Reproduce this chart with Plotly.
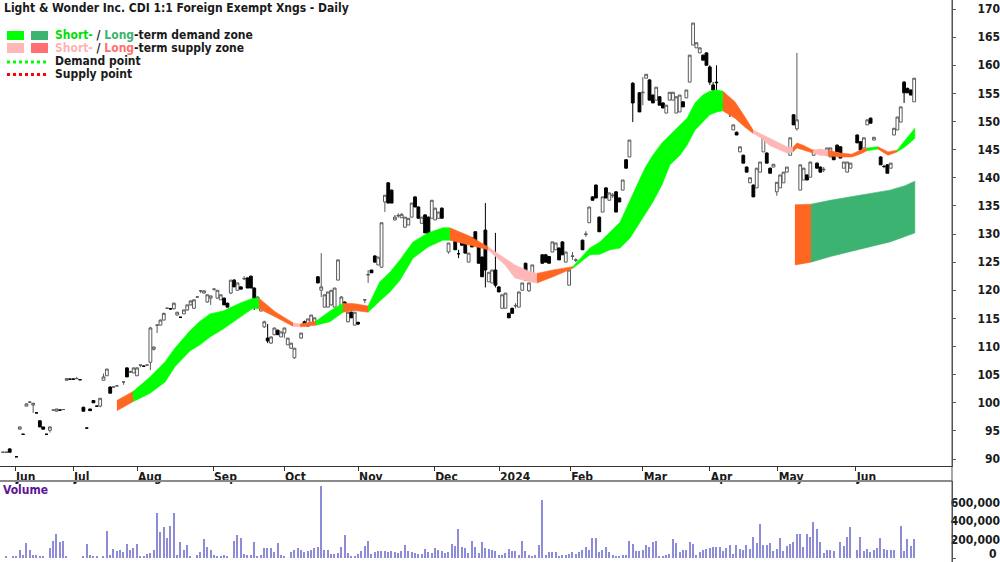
import plotly.graph_objects as go

FONT = "Liberation Sans Narrow, Arial Narrow, DejaVu Sans Condensed, Liberation Sans, Arial, sans-serif"

# ---------------- data: daily candles (trading-day index) ----------------
day = [0, 1, 2, 4, 5, 6, 7, 8, 9, 10, 11, 12, 13, 14, 15, 16, 17, 18, 19, 20, 21, 22, 23, 24, 25, 26, 27, 28, 29, 30, 31, 32, 33, 34, 36, 37, 38, 39, 40, 41, 42, 43,
       44, 45, 46, 47, 48, 49, 50, 51, 52, 53, 54, 55, 56, 57, 58, 59, 60, 61, 62, 63, 64, 65, 66, 67, 68, 69, 70, 71, 72, 73, 74, 75, 76, 77, 78, 79, 80, 81, 82, 83, 84, 85, 86, 87,
       89, 90, 91, 92, 93, 94, 95, 96, 97, 98, 99, 100, 101, 102, 103, 104, 105, 106, 108, 109, 110, 111, 112, 113, 114, 115, 116, 117, 118, 119, 120, 121, 122, 123, 124, 125, 126, 127, 128,
       129, 130, 131, 132, 133, 134, 135, 136, 137, 138, 139, 140, 141, 142, 143, 144, 145, 146, 147, 148, 149, 150, 151, 152, 153, 154, 155, 156, 157, 158, 159, 161, 162, 163, 164, 165, 166, 167, 168, 169, 170, 171,
       173, 174, 175, 176, 177, 178, 179, 180, 181, 182, 183, 184, 185, 186, 187, 188, 190, 191, 192, 193, 194, 195, 196, 197, 198, 199, 200, 201, 202, 203, 204, 205, 206, 207, 208, 209, 210, 211, 212, 213, 214, 215, 216, 217, 218, 219, 220, 221, 222, 223, 224, 225, 226, 227, 228, 229, 230,
       231, 232, 233, 234, 235, 236, 237, 238, 239, 240, 241, 242, 243, 244, 245, 246, 247, 248, 249, 250, 251, 252, 253, 255, 256, 257, 258, 259, 260, 262, 263, 264, 265, 266, 267, 268, 269, 270, 271, 272]

opn = [91.2, 91.2, 91.8, 90.4, 95.3, 94.4, 99.4, 100.1, 99.6, 98.2, 96.8, 95.7, 94.4, 95.1, 98.7, 98.5, 98.7, 98.8, 104.0, 104.2, 104.2, 104.3, 104.1, 99.2, 95.5, 98.9, 100.4, 99.4, 99.4, 104.0, 104.8, 102.8, 102.8, 103.0, 103.7, 106.2, 105.5, 105.3, 104.8, 106.7, 106.5, 106.7,
       107.2, 109.5, 113.8, 113.8, 114.7, 116.8, 116.7, 116.7, 115.6, 115.2, 115.8, 116.5, 117.4, 116.8, 118.8, 119.9, 119.5, 117.9, 118.6, 120.2, 118.6, 118.3, 118.6, 117.7, 119.5, 121.8, 120.0, 120.6, 122.0, 122.2, 122.5, 120.4, 117.0, 116.3, 113.5, 111.5, 110.6, 112.1, 112.9, 111.7, 112.4, 110.3, 109.7, 108.0,
       111.5, 114.4, 113.6, 114.2, 114.0, 122.4, 120.0, 117.0, 117.0, 117.4, 117.0, 121.8, 116.5, 117.9, 114.4, 116.1, 113.8, 114.3, 118.3, 122.7, 123.6, 126.1, 124.5, 124.1, 135.7, 139.1, 137.8, 132.5, 133.2, 132.9, 131.2, 131.6, 133.0, 136.6, 134.8, 131.9, 133.4, 133.0, 132.8,
       132.5, 132.8, 134.6, 130.7, 126.8, 130.7, 129.3, 126.5, 129.5, 128.6, 125.0, 129.3, 130.4, 127.7, 125.9, 130.7, 121.5, 121.3, 123.6, 120.6, 116.8, 116.8, 115.9, 116.8, 117.2, 117.0, 120.0, 124.8, 119.9, 121.8, 122.7, 126.3, 126.3, 126.0, 126.8, 127.2, 127.5, 128.6, 125.0, 120.9, 126.0, 125.3,
       128.9, 129.9, 132.0, 136.6, 138.7, 133.0, 133.9, 138.2, 136.0, 136.8, 137.5, 136.4, 137.8, 143.2, 143.7, 156.8, 155.1, 155.1, 157.7, 157.4, 154.7, 153.8, 154.4, 153.3, 151.5, 153.8, 153.8, 151.5, 151.7, 153.5, 154.2, 157.0, 163.6, 163.1, 162.2, 161.8, 162.2, 159.7, 156.5, 157.0, 153.8, 153.3, 151.7, 151.5, 148.5, 148.1, 144.6, 144.0, 141.9, 139.1, 138.7, 138.2, 141.0, 144.6, 144.4, 141.7, 141.9,
       137.5, 138.2, 139.1, 141.0, 144.0, 151.2, 148.7, 137.8, 139.6, 140.5, 140.1, 144.0, 142.6, 141.9, 141.4, 144.0, 143.7, 144.0, 145.8, 145.5, 141.7, 141.0, 141.7, 147.6, 146.4, 145.3, 149.4, 150.6, 146.7, 143.7, 142.0, 142.3, 141.7, 147.6, 148.5, 149.9, 157.0, 155.9, 155.6, 153.5]

high = [91.3, 91.3, 91.9, 90.5, 95.8, 94.4, 99.9, 100.3, 100.0, 98.2, 96.9, 95.7, 94.4, 95.8, 98.7, 98.9, 98.7, 98.8, 104.3, 104.2, 104.2, 104.6, 104.1, 99.3, 95.5, 98.9, 100.4, 99.4, 100.8, 105.2, 106.0, 102.9, 102.8, 103.0, 103.7, 106.3, 105.7, 106.2, 106.3, 106.7, 106.6, 106.7,
        113.5, 110.0, 113.9, 114.8, 116.0, 116.9, 116.8, 117.8, 116.1, 115.2, 116.5, 117.4, 118.2, 118.3, 118.9, 119.9, 120.0, 119.2, 119.0, 120.2, 120.0, 119.2, 118.7, 117.8, 121.8, 122.0, 121.3, 120.7, 122.5, 122.3, 122.6, 120.5, 118.9, 117.1, 114.6, 114.0, 111.8, 113.3, 113.0, 112.6, 113.3, 111.5, 110.6, 109.7,
        112.4, 114.6, 114.9, 115.6, 115.1, 122.5, 126.6, 119.2, 119.7, 120.0, 120.4, 125.4, 119.0, 118.0, 116.1, 116.2, 116.1, 114.4, 118.3, 123.6, 123.6, 126.2, 125.9, 132.0, 136.9, 139.2, 137.9, 133.4, 133.7, 133.7, 133.0, 132.8, 135.5, 136.7, 134.9, 133.0, 133.5, 133.1, 136.0,
        134.6, 133.9, 134.7, 130.8, 128.4, 130.8, 129.4, 127.2, 129.6, 128.7, 126.6, 129.4, 130.5, 127.8, 126.0, 135.5, 123.2, 123.6, 130.2, 120.7, 119.2, 119.5, 116.0, 116.9, 117.7, 119.7, 121.3, 124.9, 121.3, 124.5, 122.8, 126.4, 126.4, 126.1, 128.6, 128.4, 127.6, 128.7, 126.8, 123.6, 126.8, 125.7,
        129.0, 130.5, 134.8, 136.7, 138.8, 133.1, 136.6, 138.3, 137.3, 137.3, 137.6, 136.5, 139.6, 143.3, 146.7, 157.0, 155.2, 157.9, 158.4, 157.5, 154.8, 156.1, 154.5, 153.4, 152.9, 155.2, 155.2, 154.4, 154.7, 153.6, 155.6, 161.8, 167.5, 164.0, 163.1, 161.9, 162.3, 160.0, 157.0, 160.0, 153.9, 153.4, 153.3, 152.0, 149.4, 148.2, 145.5, 144.1, 142.0, 140.0, 138.8, 141.7, 142.8, 147.3, 144.5, 141.8, 142.4,
        139.2, 140.5, 141.0, 141.9, 147.1, 151.3, 162.2, 142.3, 141.7, 140.6, 142.8, 144.9, 142.7, 142.0, 141.9, 145.3, 145.3, 144.1, 145.9, 145.6, 142.8, 142.8, 142.6, 147.7, 146.5, 147.1, 150.3, 150.7, 147.2, 143.8, 142.3, 142.4, 142.6, 148.8, 150.8, 152.6, 157.2, 156.0, 155.7, 157.7]

low = [91.1, 91.1, 91.2, 90.4, 95.3, 94.4, 99.4, 100.1, 98.2, 98.2, 95.7, 95.3, 94.4, 94.7, 98.7, 98.5, 98.7, 98.8, 104.0, 104.2, 104.2, 104.3, 104.1, 98.5, 95.5, 98.6, 100.0, 99.4, 99.2, 104.0, 104.8, 101.7, 102.8, 103.0, 103.2, 104.6, 105.3, 105.3, 104.8, 106.3, 106.5, 106.7,
       105.8, 109.3, 112.4, 113.8, 114.7, 116.7, 116.6, 116.6, 115.5, 115.2, 115.8, 116.4, 117.3, 116.7, 118.8, 119.5, 119.5, 117.8, 117.4, 119.9, 118.5, 118.3, 117.4, 117.0, 119.3, 120.6, 120.0, 120.2, 121.8, 120.4, 120.4, 116.5, 117.0, 116.3, 113.3, 110.6, 110.5, 112.0, 112.1, 111.7, 111.5, 110.3, 109.6, 107.8,
       111.4, 113.6, 113.5, 114.2, 114.0, 121.3, 118.8, 117.0, 117.0, 117.3, 117.0, 121.8, 116.0, 117.0, 114.3, 115.1, 113.8, 113.8, 117.7, 121.3, 123.1, 125.0, 124.5, 124.0, 133.9, 135.5, 135.5, 132.4, 132.9, 132.9, 131.2, 131.6, 133.0, 134.8, 132.8, 131.9, 130.2, 129.5, 132.8,
       132.5, 132.8, 132.8, 129.8, 126.5, 129.3, 127.2, 125.7, 128.0, 126.6, 125.0, 127.7, 128.0, 124.8, 122.4, 120.5, 121.5, 121.3, 120.5, 119.7, 116.8, 116.8, 115.1, 115.9, 116.8, 117.0, 120.0, 121.8, 119.7, 121.8, 121.8, 124.8, 125.0, 124.8, 126.8, 127.2, 125.4, 126.3, 125.0, 120.9, 125.4, 125.0,
       127.2, 129.5, 132.0, 136.0, 136.4, 130.4, 133.9, 136.4, 136.0, 136.4, 133.9, 135.7, 137.8, 141.7, 143.7, 149.9, 151.7, 152.9, 157.7, 153.8, 153.3, 153.8, 152.9, 152.4, 151.5, 153.8, 153.8, 151.5, 151.7, 152.6, 154.2, 157.0, 163.6, 163.1, 162.2, 160.9, 160.0, 156.5, 155.0, 154.2, 152.6, 152.6, 151.7, 150.8, 148.5, 147.6, 144.6, 142.6, 141.0, 139.1, 136.6, 138.2, 141.0, 144.6, 142.6, 140.8, 141.9,
       136.8, 138.2, 139.1, 141.0, 144.0, 149.4, 148.4, 137.8, 139.6, 139.6, 140.1, 144.0, 141.7, 141.0, 141.0, 144.0, 143.7, 143.2, 144.6, 143.5, 141.7, 141.0, 141.7, 146.2, 144.9, 145.3, 149.4, 149.7, 146.7, 142.3, 141.7, 140.8, 141.7, 147.6, 148.5, 149.9, 153.3, 155.1, 154.7, 153.5]

close = [91.2, 91.2, 91.2, 90.4, 95.7, 94.4, 99.8, 100.1, 99.9, 98.2, 95.7, 95.3, 94.4, 95.7, 98.7, 98.9, 98.7, 98.8, 104.3, 104.2, 104.2, 104.3, 104.1, 98.5, 95.5, 98.6, 100.0, 99.4, 100.8, 104.6, 106.0, 101.7, 102.8, 103.0, 103.7, 104.6, 105.5, 106.2, 106.2, 106.7, 106.5, 106.7,
         113.3, 109.9, 113.8, 114.7, 115.9, 116.8, 116.7, 117.7, 116.1, 115.2, 116.5, 117.4, 118.1, 118.3, 118.8, 119.9, 119.9, 119.2, 119.0, 120.2, 120.0, 119.2, 117.4, 117.0, 121.8, 120.6, 121.3, 120.2, 122.1, 120.4, 120.4, 117.0, 118.8, 117.0, 114.4, 111.0, 111.7, 113.3, 112.1, 112.6, 113.3, 111.5, 110.6, 109.7,
         112.4, 113.8, 114.9, 115.6, 115.1, 121.3, 120.6, 119.2, 119.7, 120.0, 120.4, 125.4, 118.8, 117.0, 116.1, 115.1, 116.1, 114.0, 118.3, 122.8, 123.1, 125.0, 125.9, 132.0, 136.9, 135.5, 135.5, 133.0, 133.3, 133.5, 133.0, 132.8, 135.5, 134.8, 132.8, 133.0, 130.2, 129.8, 136.0,
         134.6, 133.9, 132.8, 129.8, 128.4, 129.3, 127.2, 126.5, 128.0, 126.6, 126.6, 127.7, 128.0, 124.8, 122.4, 123.6, 123.2, 123.6, 120.9, 119.7, 119.2, 119.5, 115.1, 115.9, 117.3, 119.7, 121.3, 121.8, 121.3, 124.5, 121.8, 124.8, 125.0, 124.8, 128.6, 128.4, 125.4, 126.3, 126.8, 123.6, 126.1, 125.4,
         127.2, 130.0, 134.8, 136.0, 136.4, 130.4, 136.6, 136.4, 137.3, 136.9, 133.9, 135.7, 139.6, 141.7, 146.7, 153.3, 151.7, 155.2, 158.4, 153.8, 153.3, 156.1, 152.9, 152.4, 152.9, 155.2, 155.2, 154.4, 154.7, 152.6, 155.6, 161.8, 167.5, 164.0, 163.1, 160.9, 160.0, 157.0, 155.6, 156.9, 152.6, 152.6, 153.3, 151.4, 149.4, 147.6, 145.5, 142.6, 141.0, 140.0, 136.6, 141.7, 142.8, 147.3, 142.6, 140.8, 142.4,
         139.2, 140.5, 141.0, 141.9, 147.1, 149.4, 150.3, 142.3, 141.7, 139.6, 142.8, 144.9, 141.7, 141.0, 141.5, 145.3, 145.3, 143.2, 144.6, 143.5, 142.8, 142.8, 142.6, 146.2, 144.9, 147.1, 150.3, 149.7, 147.2, 142.3, 142.0, 140.8, 142.6, 148.8, 150.8, 152.6, 155.1, 155.1, 154.7, 157.7]

# ---------------- data: volume ----------------
vol_day = [1, 3, 4, 5, 6, 7, 8, 9, 10, 11, 12, 14, 15, 16, 17, 18, 19, 24, 25, 26,
           27, 28, 30, 31, 32, 33, 34, 35, 36, 37, 38, 39, 40, 41, 42, 43, 44, 45, 46, 47,
           48, 49, 50, 51, 52, 53, 54, 55, 56, 58, 59, 60, 61, 62, 63, 64, 65, 66, 67, 69,
           70, 71, 72, 73, 74, 75, 76, 77, 78, 79, 80, 81, 82, 83, 84, 86, 87, 88, 89, 90,
           91, 92, 93, 94, 95, 96, 97, 98, 99, 100, 101, 102, 103, 104, 105, 106, 107, 108, 109, 110,
           111, 112, 113, 114, 115, 116, 117, 118, 119, 120, 121, 122, 123, 124, 125, 126, 127, 128, 129, 130,
           131, 132, 133, 134, 135, 136, 137, 138, 139, 140, 141, 142, 143, 144, 145, 146, 147, 148, 149, 150,
           151, 152, 153, 154, 155, 156, 157, 158, 159, 160, 161, 162, 163, 164, 165, 166, 167, 168, 169, 170,
           171, 172, 173, 174, 175, 176, 177, 178, 179, 180, 181, 182, 183, 184, 185, 186, 187, 188, 189, 190,
           191, 192, 193, 194, 195, 196, 197, 198, 199, 200, 201, 202, 203, 204, 205, 206, 207, 208, 209, 210,
           211, 212, 213, 214, 215, 216, 217, 218, 219, 220, 221, 222, 223, 224, 225, 226, 227, 228, 229, 230,
           231, 232, 233, 234, 235, 236, 237, 238, 239, 240, 241, 242, 243, 244, 245, 246, 247, 248, 250, 251,
           252, 253, 255, 256, 257, 258, 259, 260, 261, 262, 263, 264, 265, 266, 268, 269, 270, 271, 272]
vol = [18000, 18000, 25000, 83000, 36000, 162000, 90000, 36000, 29000, 25000, 25000, 108000, 180000, 263000, 170000, 184000, 11000, 18000, 155000, 36000,
       18000, 25000, 11000, 296000, 36000, 97000, 72000, 90000, 61000, 151000, 90000, 112000, 151000, 18000, 25000, 43000, 58000, 83000, 483000, 278000,
       335000, 213000, 346000, 487000, 36000, 169000, 90000, 144000, 18000, 36000, 68000, 205000, 119000, 83000, 36000, 25000, 25000, 36000, 18000, 180000,
       252000, 220000, 47000, 36000, 36000, 169000, 18000, 36000, 108000, 108000, 108000, 61000, 162000, 36000, 18000, 61000, 90000, 108000, 83000, 61000,
       72000, 90000, 108000, 119000, 782000, 90000, 83000, 43000, 47000, 54000, 119000, 252000, 54000, 25000, 25000, 43000, 72000, 126000, 180000, 47000,
       61000, 72000, 72000, 72000, 61000, 72000, 61000, 54000, 72000, 144000, 72000, 61000, 54000, 47000, 47000, 97000, 61000, 54000, 108000, 90000,
       72000, 54000, 61000, 155000, 133000, 317000, 119000, 108000, 54000, 180000, 119000, 54000, 177000, 108000, 97000, 83000, 72000, 36000, 36000, 54000,
       97000, 72000, 72000, 36000, 180000, 72000, 36000, 25000, 36000, 144000, 631000, 36000, 61000, 61000, 61000, 25000, 36000, 36000, 47000, 61000,
       47000, 61000, 90000, 119000, 83000, 216000, 216000, 61000, 83000, 119000, 61000, 36000, 25000, 25000, 36000, 36000, 180000, 155000, 72000, 72000,
       90000, 144000, 119000, 169000, 180000, 25000, 11000, 36000, 47000, 209000, 162000, 61000, 83000, 90000, 169000, 155000, 36000, 61000, 83000, 97000,
       108000, 119000, 119000, 119000, 72000, 108000, 144000, 47000, 144000, 97000, 83000, 144000, 97000, 227000, 162000, 371000, 144000, 144000, 162000, 72000,
       97000, 216000, 72000, 133000, 155000, 169000, 263000, 263000, 119000, 263000, 227000, 393000, 317000, 169000, 54000, 83000, 83000, 72000, 169000, 126000,
       227000, 331000, 83000, 223000, 72000, 97000, 61000, 90000, 108000, 216000, 97000, 90000, 90000, 90000, 342000, 72000, 209000, 133000, 205000]

# ---------------- data: short-term zone ribbon ----------------
st_day = [34.0, 38.8, 43.9, 48.4, 51.3, 55.8, 58.8, 61.8, 65.7, 70.7, 74.6, 76.4, 81.2, 86.6, 88.7, 93.4, 97.6, 101.5, 105.1, 109.0,
          112.5, 115.5, 118.5, 122.4, 126.9, 131.3, 133.4, 139.4, 144.8, 149.9, 152.8, 157.3, 159.4, 164.2, 170.1, 175.2, 178.2, 181.2, 184.2, 187.2,
          189.3, 191.6, 194.0, 196.7, 199.1, 202.1, 204.2, 206.6, 208.9, 211.0, 213.1, 214.9, 218.5, 221.5, 223.9, 226.0, 229.0, 231.9, 234.0, 235.8,
          237.0, 238.8, 241.8, 243.9, 246.3, 249.9, 253.4, 255.8, 257.9, 261.2, 264.2, 266.9, 269.3, 272.2]
st_top = [100.4, 102.0, 104.6, 107.3, 109.7, 112.8, 114.5, 115.8, 116.3, 117.7, 118.6, 118.6, 116.2, 114.2, 114.0, 114.5, 116.3, 117.7, 117.6, 117.2,
          121.5, 123.2, 125.4, 128.6, 130.2, 131.1, 131.1, 129.6, 127.7, 125.7, 124.5, 123.3, 123.0, 123.6, 124.2, 127.5, 128.6, 130.4, 132.1, 136.0,
          138.7, 141.7, 144.0, 146.2, 147.6, 149.4, 150.6, 153.3, 154.7, 155.4, 155.6, 155.4, 153.5, 150.8, 148.5, 147.9, 146.9, 146.2, 145.5, 145.4,
          146.2, 145.8, 144.9, 145.1, 144.9, 144.4, 144.2, 144.9, 145.3, 145.5, 144.6, 144.9, 146.7, 148.8]
st_bot = [98.6, 100.2, 101.7, 103.7, 106.4, 109.2, 110.3, 111.7, 113.1, 115.2, 116.8, 116.7, 115.3, 113.6, 113.5, 113.8, 114.4, 116.1, 116.4, 116.1,
          118.1, 119.7, 121.8, 125.7, 127.7, 128.9, 128.9, 128.0, 127.2, 124.5, 122.2, 121.5, 121.3, 122.4, 123.9, 126.3, 126.4, 127.2, 127.5, 129.3,
          131.1, 133.4, 135.7, 138.7, 142.3, 144.0, 145.8, 148.5, 149.9, 151.2, 151.7, 151.9, 150.6, 149.0, 147.9, 147.2, 145.7, 144.9, 144.4, 144.6,
          145.3, 144.9, 144.4, 144.0, 143.9, 143.7, 143.7, 144.2, 144.8, 145.1, 144.0, 144.6, 145.5, 147.0]
# D = short-term demand (green), S = supply (orange), P = short-term supply (pink)
st_state = list("S" + "DDDDDDDDDD" + "SS" + "P" + "S" + "DD" + "SS" + "DDDDDDD" + "SS" + "PPPP" + "SS"
                + "DDDDDDDDDDDDDDDDD" + "SSS" + "PPPPP" + "SSS" + "PP" + "SSSS" + "D" + "SS" + "DDD")

# ---------------- data: long-term zone ----------------
lt_day = [236.4, 241.2, 247.0, 255.8, 264.8, 269.3, 272.2]
lt_top = [135.2, 135.3, 136.0, 136.9, 137.8, 138.6, 139.4]
lt_bot = [124.5, 125.0, 126.0, 127.3, 128.6, 129.6, 130.2]
lt_state = ["S", "L", "L", "L", "L", "L", "L"]

# ---------------- axis labels ----------------
month_pos = [3.6, 20.9, 40.0, 62.7, 83.9, 106.0, 128.7, 148.1, 169.3, 191.0, 211.0, 231.3, 254.6]
month_lbl = ["Jun", "Jul", "Aug", "Sep", "Oct", "Nov", "Dec", "2024", "Feb", "Mar", "Apr", "May", "Jun"]
price_ticks = [90, 95, 100, 105, 110, 115, 120, 125, 130, 135, 140, 145, 150, 155, 160, 165, 170]
vol_ticks = [0, 200000, 400000, 600000]
vol_tick_text = ["0", "200,000", "400,000", "600,000"]

assert len(day) == len(opn) == len(high) == len(low) == len(close), (len(day), len(opn), len(high), len(low), len(close))
assert len(vol_day) == len(vol), (len(vol_day), len(vol))
assert len(st_day) == len(st_top) == len(st_bot) == len(st_state), (len(st_day), len(st_top), len(st_bot), len(st_state))

ZCOL = {"D": "#00FF00", "S": "#FF6622", "P": "#FFB6B6", "L": "#3CB371"}

W, H = 1000, 562
XR = [-0.9, 283.3]
XDOM = [0, 0.952]
PRICE_DOM = [96 / H, 1.0]
VOL_DOM = [0, 81 / H]
PR = [88.76, 171.6]
VR = [-43400, 835400]

fig = go.Figure()


def add_zone(days, top, bot, state):
    n = len(days)
    a = 0
    for k in range(1, n):
        if k == n - 1 or state[k] != state[a]:
            xs = days[a:k + 1]
            ys = top[a:k + 1] + bot[a:k + 1][::-1]
            c = ZCOL[state[a]]
            fig.add_trace(go.Scatter(x=xs + xs[::-1], y=ys, fill="toself", fillcolor=c, mode="lines",
                                     line=dict(width=0.6, color=c), hoverinfo="skip", showlegend=False,
                                     xaxis="x", yaxis="y"))
            a = k


add_zone(st_day, st_top, st_bot, st_state)
add_zone(lt_day, lt_top, lt_bot, lt_state)

fig.add_trace(go.Candlestick(
    x=day, open=opn, high=high, low=low, close=close, xaxis="x", yaxis="y",
    increasing=dict(line=dict(color="#5a5a5a", width=1), fillcolor="#ffffff"),
    decreasing=dict(line=dict(color="#000000", width=1), fillcolor="#000000"),
    whiskerwidth=0, hoverinfo="skip", showlegend=False))

fig.add_trace(go.Bar(x=vol_day, y=vol, xaxis="x2", yaxis="y2", width=0.4,
                     marker=dict(color="#8c8cd8", line=dict(width=0)), hoverinfo="skip", showlegend=False))

# carriers for the right-aligned label axes
fig.add_trace(go.Scatter(x=[0], y=[100], xaxis="x", yaxis="y3", mode="markers",
                         marker=dict(opacity=0), hoverinfo="skip", showlegend=False))
fig.add_trace(go.Scatter(x=[0], y=[0], xaxis="x2", yaxis="y4", mode="markers",
                         marker=dict(opacity=0), hoverinfo="skip", showlegend=False))

lab_font = dict(family=FONT, size=12, color="#1a1a1a", weight="bold")

fig.update_layout(
    width=W, height=H, margin=dict(l=0, r=0, t=0, b=0, autoexpand=False),
    paper_bgcolor="white", plot_bgcolor="white", showlegend=False,
    boxgap=0.12, boxgroupgap=0.05,
    xaxis=dict(domain=XDOM, range=XR, anchor="y", showgrid=False, zeroline=False,
               showline=True, linecolor="#333333", linewidth=1,
               ticks="outside", ticklen=4, tickcolor="#333333",
               tickmode="array", tickvals=month_pos, ticktext=month_lbl,
               ticklabelposition="outside right", tickfont=lab_font, automargin=False,
               rangeslider=dict(visible=False), fixedrange=True),
    xaxis2=dict(domain=XDOM, range=XR, anchor="y2", matches="x", showgrid=False, zeroline=False,
                showline=False, showticklabels=False, ticks="", automargin=False, fixedrange=True),
    yaxis=dict(domain=PRICE_DOM, range=PR, anchor="x", side="right", showgrid=False, zeroline=False,
               showline=True, linecolor="#555555", linewidth=1, ticks="outside", ticklen=3,
               tickcolor="#555555", tickmode="array", tickvals=price_ticks, showticklabels=False,
               automargin=False, fixedrange=True),
    yaxis3=dict(overlaying="y", anchor="free", position=1.0, side="left", range=PR,
                showgrid=False, zeroline=False, showline=False, ticks="",
                tickmode="array", tickvals=price_ticks, tickfont=lab_font, automargin=False,
                fixedrange=True),
    yaxis2=dict(domain=VOL_DOM, range=VR, anchor="x2", side="right", showgrid=False, zeroline=False,
                showline=True, linecolor="#555555", linewidth=1, ticks="outside", ticklen=3,
                tickcolor="#555555", tickmode="array", tickvals=vol_ticks, showticklabels=False,
                automargin=False, fixedrange=True),
    yaxis4=dict(overlaying="y2", anchor="free", position=1.0, side="left", range=VR,
                showgrid=False, zeroline=False, showline=False, ticks="",
                tickmode="array", tickvals=vol_ticks[1:], ticktext=vol_tick_text[1:], tickfont=lab_font,
                automargin=False, fixedrange=True),
    bargap=0,
)


def py(pix):
    return 1 - pix / H


shapes = [
    dict(type="line", xref="paper", yref="paper", x0=0, x1=XDOM[1], y0=py(481), y1=py(481),
         line=dict(color="#8a8a8a", width=2)),
    dict(type="line", xref="paper", yref="paper", x0=XDOM[1], x1=XDOM[1], y0=0, y1=1,
         line=dict(color="#555555", width=1)),
    dict(type="rect", xref="paper", yref="paper", x0=0.007, x1=0.024, y0=py(40), y1=py(31),
         fillcolor="#00FF00", line=dict(width=0)),
    dict(type="rect", xref="paper", yref="paper", x0=0.031, x1=0.048, y0=py(40), y1=py(31),
         fillcolor="#3CB371", line=dict(width=0)),
    dict(type="rect", xref="paper", yref="paper", x0=0.007, x1=0.024, y0=py(53), y1=py(43),
         fillcolor="#FFB6B6", line=dict(width=0)),
    dict(type="rect", xref="paper", yref="paper", x0=0.031, x1=0.048, y0=py(53), y1=py(43),
         fillcolor="#FF7070", line=dict(width=0)),
    dict(type="line", xref="paper", yref="paper", x0=0.007, x1=0.046, y0=py(62), y1=py(62),
         line=dict(color="#00FF00", width=3, dash="dot")),
    dict(type="line", xref="paper", yref="paper", x0=0.007, x1=0.046, y0=py(74.5), y1=py(74.5),
         line=dict(color="#FF0000", width=3, dash="dot")),
]
fig.update_layout(shapes=shapes)

txt_font = dict(family=FONT, size=12, color="#1a1a1a", weight="bold")
ann = [
    dict(text="Light &amp; Wonder Inc. CDI 1:1 Foreign Exempt Xngs - Daily", x=0.002, y=py(7.5)),
    dict(text='<span style="color:#00E000">Short-</span> / <span style="color:#3CB371">Long</span>-term demand zone',
         x=0.053, y=py(35.5)),
    dict(text='<span style="color:#FFB3B3">Short-</span> / <span style="color:#FF7070">Long</span>-term supply zone',
         x=0.053, y=py(48)),
    dict(text="Demand point", x=0.053, y=py(61.5)),
    dict(text="Supply point", x=0.053, y=py(74)),
]
annotations = []
for a in ann:
    annotations.append(dict(text=a["text"], x=a["x"], y=a["y"], xref="paper", yref="paper",
                            xanchor="left", yanchor="middle", showarrow=False, font=txt_font))
annotations.append(dict(text="Volume", x=0.001, y=py(490), xref="paper", yref="paper",
                        xanchor="left", yanchor="middle", showarrow=False,
                        font=dict(family=FONT, size=12, color="#5E1394", weight="bold")))
# bottom "0" label of the volume axis, kept inside the page
annotations.append(dict(text=vol_tick_text[0], x=0.998, y=0.0, xref="paper", yref="paper",
                        xanchor="right", yanchor="bottom", showarrow=False, borderpad=0,
                        font=lab_font))
fig.update_layout(annotations=annotations)

fig.write_html("out.html", config={"displayModeBar": False})
